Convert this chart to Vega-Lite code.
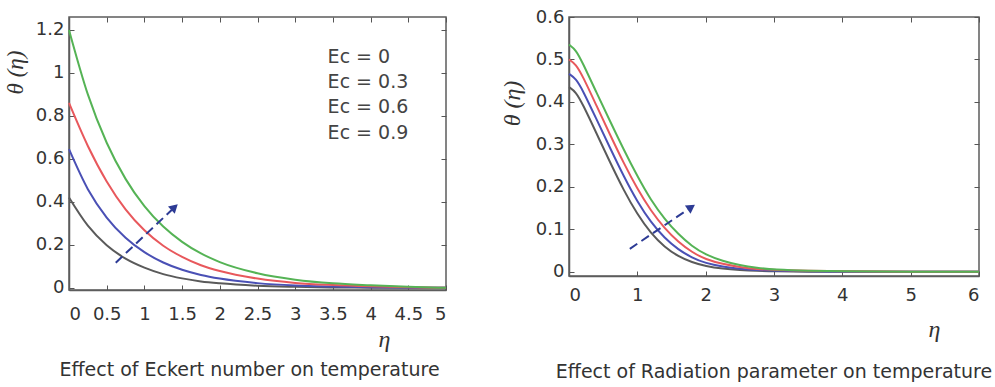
{
  "$schema": "https://vega.github.io/schema/vega-lite/v6.json",
  "padding": {"left": 3, "top": 7, "right": 5, "bottom": 2},
  "bounds": "flush",
  "spacing": 123,
  "datasets": {
    "ec": [
      {"eta": 0, "theta": 0.42, "s": "Ec = 0"}, {"eta": 0.25, "theta": 0.289, "s": "Ec = 0"}, {"eta": 0.5, "theta": 0.198, "s": "Ec = 0"}, {"eta": 0.75, "theta": 0.136, "s": "Ec = 0"}, {"eta": 1, "theta": 0.094, "s": "Ec = 0"}, {"eta": 1.25, "theta": 0.064, "s": "Ec = 0"}, {"eta": 1.5, "theta": 0.044, "s": "Ec = 0"}, {"eta": 1.75, "theta": 0.03, "s": "Ec = 0"}, {"eta": 2, "theta": 0.021, "s": "Ec = 0"}, {"eta": 2.5, "theta": 0.01, "s": "Ec = 0"}, {"eta": 3, "theta": 0.005, "s": "Ec = 0"}, {"eta": 3.5, "theta": 0.002, "s": "Ec = 0"}, {"eta": 4, "theta": 0.001, "s": "Ec = 0"}, {"eta": 4.5, "theta": 0.0005, "s": "Ec = 0"}, {"eta": 5, "theta": 0, "s": "Ec = 0"},
      {"eta": 0, "theta": 0.645, "s": "Ec = 0.3"}, {"eta": 0.25, "theta": 0.459, "s": "Ec = 0.3"}, {"eta": 0.5, "theta": 0.327, "s": "Ec = 0.3"}, {"eta": 0.75, "theta": 0.233, "s": "Ec = 0.3"}, {"eta": 1, "theta": 0.166, "s": "Ec = 0.3"}, {"eta": 1.25, "theta": 0.118, "s": "Ec = 0.3"}, {"eta": 1.5, "theta": 0.084, "s": "Ec = 0.3"}, {"eta": 1.75, "theta": 0.06, "s": "Ec = 0.3"}, {"eta": 2, "theta": 0.043, "s": "Ec = 0.3"}, {"eta": 2.5, "theta": 0.022, "s": "Ec = 0.3"}, {"eta": 3, "theta": 0.011, "s": "Ec = 0.3"}, {"eta": 3.5, "theta": 0.006, "s": "Ec = 0.3"}, {"eta": 4, "theta": 0.003, "s": "Ec = 0.3"}, {"eta": 4.5, "theta": 0.001, "s": "Ec = 0.3"}, {"eta": 5, "theta": 0, "s": "Ec = 0.3"},
      {"eta": 0, "theta": 0.86, "s": "Ec = 0.6"}, {"eta": 0.25, "theta": 0.66, "s": "Ec = 0.6"}, {"eta": 0.5, "theta": 0.495, "s": "Ec = 0.6"}, {"eta": 0.75, "theta": 0.365, "s": "Ec = 0.6"}, {"eta": 1, "theta": 0.268, "s": "Ec = 0.6"}, {"eta": 1.25, "theta": 0.196, "s": "Ec = 0.6"}, {"eta": 1.5, "theta": 0.144, "s": "Ec = 0.6"}, {"eta": 1.75, "theta": 0.105, "s": "Ec = 0.6"}, {"eta": 2, "theta": 0.078, "s": "Ec = 0.6"}, {"eta": 2.5, "theta": 0.043, "s": "Ec = 0.6"}, {"eta": 3, "theta": 0.023, "s": "Ec = 0.6"}, {"eta": 3.5, "theta": 0.013, "s": "Ec = 0.6"}, {"eta": 4, "theta": 0.007, "s": "Ec = 0.6"}, {"eta": 4.5, "theta": 0.003, "s": "Ec = 0.6"}, {"eta": 5, "theta": 0, "s": "Ec = 0.6"},
      {"eta": 0, "theta": 1.2, "s": "Ec = 0.9"}, {"eta": 0.25, "theta": 0.9, "s": "Ec = 0.9"}, {"eta": 0.5, "theta": 0.675, "s": "Ec = 0.9"}, {"eta": 0.75, "theta": 0.507, "s": "Ec = 0.9"}, {"eta": 1, "theta": 0.38, "s": "Ec = 0.9"}, {"eta": 1.25, "theta": 0.285, "s": "Ec = 0.9"}, {"eta": 1.5, "theta": 0.214, "s": "Ec = 0.9"}, {"eta": 1.75, "theta": 0.16, "s": "Ec = 0.9"}, {"eta": 2, "theta": 0.12, "s": "Ec = 0.9"}, {"eta": 2.5, "theta": 0.068, "s": "Ec = 0.9"}, {"eta": 3, "theta": 0.038, "s": "Ec = 0.9"}, {"eta": 3.5, "theta": 0.021, "s": "Ec = 0.9"}, {"eta": 4, "theta": 0.012, "s": "Ec = 0.9"}, {"eta": 4.5, "theta": 0.005, "s": "Ec = 0.9"}, {"eta": 5, "theta": 0, "s": "Ec = 0.9"}
    ],
    "rad": [
      {"eta": 0, "theta": 0.435, "s": "R1"}, {"eta": 0.1, "theta": 0.424, "s": "R1"}, {"eta": 0.2, "theta": 0.395, "s": "R1"}, {"eta": 0.4, "theta": 0.327, "s": "R1"}, {"eta": 0.6, "theta": 0.258, "s": "R1"}, {"eta": 0.8, "theta": 0.192, "s": "R1"}, {"eta": 1, "theta": 0.135, "s": "R1"}, {"eta": 1.2, "theta": 0.09, "s": "R1"}, {"eta": 1.4, "theta": 0.058, "s": "R1"}, {"eta": 1.6, "theta": 0.036, "s": "R1"}, {"eta": 1.8, "theta": 0.022, "s": "R1"}, {"eta": 2, "theta": 0.013, "s": "R1"}, {"eta": 2.25, "theta": 0.007, "s": "R1"}, {"eta": 2.5, "theta": 0.004, "s": "R1"}, {"eta": 2.75, "theta": 0.002, "s": "R1"}, {"eta": 3, "theta": 0.001, "s": "R1"}, {"eta": 3.5, "theta": 0, "s": "R1"}, {"eta": 4, "theta": 0, "s": "R1"}, {"eta": 5, "theta": 0, "s": "R1"}, {"eta": 6, "theta": 0, "s": "R1"},
      {"eta": 0, "theta": 0.466, "s": "R2"}, {"eta": 0.1, "theta": 0.455, "s": "R2"}, {"eta": 0.2, "theta": 0.428, "s": "R2"}, {"eta": 0.4, "theta": 0.36, "s": "R2"}, {"eta": 0.6, "theta": 0.292, "s": "R2"}, {"eta": 0.8, "theta": 0.225, "s": "R2"}, {"eta": 1, "theta": 0.165, "s": "R2"}, {"eta": 1.2, "theta": 0.116, "s": "R2"}, {"eta": 1.4, "theta": 0.079, "s": "R2"}, {"eta": 1.6, "theta": 0.052, "s": "R2"}, {"eta": 1.8, "theta": 0.033, "s": "R2"}, {"eta": 2, "theta": 0.02, "s": "R2"}, {"eta": 2.25, "theta": 0.012, "s": "R2"}, {"eta": 2.5, "theta": 0.007, "s": "R2"}, {"eta": 2.75, "theta": 0.004, "s": "R2"}, {"eta": 3, "theta": 0.002, "s": "R2"}, {"eta": 3.5, "theta": 0.001, "s": "R2"}, {"eta": 4, "theta": 0, "s": "R2"}, {"eta": 5, "theta": 0, "s": "R2"}, {"eta": 6, "theta": 0, "s": "R2"},
      {"eta": 0, "theta": 0.5, "s": "R3"}, {"eta": 0.1, "theta": 0.489, "s": "R3"}, {"eta": 0.2, "theta": 0.461, "s": "R3"}, {"eta": 0.4, "theta": 0.392, "s": "R3"}, {"eta": 0.6, "theta": 0.323, "s": "R3"}, {"eta": 0.8, "theta": 0.256, "s": "R3"}, {"eta": 1, "theta": 0.195, "s": "R3"}, {"eta": 1.2, "theta": 0.143, "s": "R3"}, {"eta": 1.4, "theta": 0.102, "s": "R3"}, {"eta": 1.6, "theta": 0.07, "s": "R3"}, {"eta": 1.8, "theta": 0.046, "s": "R3"}, {"eta": 2, "theta": 0.029, "s": "R3"}, {"eta": 2.25, "theta": 0.018, "s": "R3"}, {"eta": 2.5, "theta": 0.011, "s": "R3"}, {"eta": 2.75, "theta": 0.006, "s": "R3"}, {"eta": 3, "theta": 0.004, "s": "R3"}, {"eta": 3.5, "theta": 0.002, "s": "R3"}, {"eta": 4, "theta": 0.001, "s": "R3"}, {"eta": 5, "theta": 0, "s": "R3"}, {"eta": 6, "theta": 0, "s": "R3"},
      {"eta": 0, "theta": 0.535, "s": "R4"}, {"eta": 0.1, "theta": 0.523, "s": "R4"}, {"eta": 0.2, "theta": 0.492, "s": "R4"}, {"eta": 0.4, "theta": 0.423, "s": "R4"}, {"eta": 0.6, "theta": 0.355, "s": "R4"}, {"eta": 0.8, "theta": 0.288, "s": "R4"}, {"eta": 1, "theta": 0.225, "s": "R4"}, {"eta": 1.2, "theta": 0.168, "s": "R4"}, {"eta": 1.4, "theta": 0.124, "s": "R4"}, {"eta": 1.6, "theta": 0.088, "s": "R4"}, {"eta": 1.8, "theta": 0.06, "s": "R4"}, {"eta": 2, "theta": 0.04, "s": "R4"}, {"eta": 2.25, "theta": 0.025, "s": "R4"}, {"eta": 2.5, "theta": 0.015, "s": "R4"}, {"eta": 2.75, "theta": 0.009, "s": "R4"}, {"eta": 3, "theta": 0.005, "s": "R4"}, {"eta": 3.5, "theta": 0.002, "s": "R4"}, {"eta": 4, "theta": 0.001, "s": "R4"}, {"eta": 5, "theta": 0, "s": "R4"}, {"eta": 6, "theta": 0, "s": "R4"}
    ],
    "arrowEc": [{"x": 0.62, "y": 0.117, "x2": 1.4, "y2": 0.375}],
    "arrowRad": [{"x": 0.89, "y": 0.054, "x2": 1.79, "y2": 0.152}],
    "legendEc": [
      {"label": "Ec = 0", "x": 3.43, "y": 1.074},
      {"label": "Ec = 0.3", "x": 3.43, "y": 0.956},
      {"label": "Ec = 0.6", "x": 3.43, "y": 0.839},
      {"label": "Ec = 0.9", "x": 3.43, "y": 0.722}
    ]
  },
  "hconcat": [
    {
      "width": 377,
      "height": 273,
      "title": {"text": "Effect of Eckert number on temperature", "orient": "bottom", "offset": 10, "dx": -8},
      "resolve": {"axis": {"x": "independent", "y": "independent"}},
      "layer": [
        {
          "data": {"name": "ec"},
          "mark": {"type": "line", "strokeWidth": 2, "interpolate": "monotone"},
          "encoding": {
            "x": {"field": "eta", "type": "quantitative", "scale": {"domain": [0, 5], "nice": false, "zero": false},
              "axis": {"orient": "bottom", "values": [0, 0.5, 1, 1.5, 2, 2.5, 3, 3.5, 4, 4.5, 5], "format": "~g", "title": "η", "titleFontSize": 24, "titleX": 315, "titleY": 56, "titleBaseline": "alphabetic", "titleAlign": "center", "labelPadding": 20}},
            "y": {"field": "theta", "type": "quantitative", "scale": {"domain": [-0.01, 1.26], "nice": false, "zero": false},
              "axis": {"orient": "left", "values": [0, 0.2, 0.4, 0.6, 0.8, 1, 1.2], "format": "~g", "title": "θ (η)", "titleFontSize": 23, "titleX": -47, "titleY": 55, "titleAngle": 270, "titleAlign": "center", "titleBaseline": "alphabetic", "labelPadding": 10}},
            "color": {"field": "s", "type": "nominal", "scale": {"domain": ["Ec = 0", "Ec = 0.3", "Ec = 0.6", "Ec = 0.9"], "range": ["#5a5a5a", "#4a50b5", "#e8585c", "#55b355"]}, "legend": null}
          }
        },
        {
          "data": {"name": "arrowEc"},
          "mark": {"type": "rule", "color": "#2d3b95", "strokeWidth": 2, "strokeDash": [9, 5]},
          "encoding": {
            "x": {"field": "x", "type": "quantitative", "scale": {"domain": [0, 5], "nice": false, "zero": false}, "axis": null},
            "y": {"field": "y", "type": "quantitative", "scale": {"domain": [-0.01, 1.26], "nice": false, "zero": false}, "axis": null},
            "x2": {"field": "x2"},
            "y2": {"field": "y2"}
          }
        },
        {
          "data": {"name": "arrowEc"},
          "mark": {"type": "point", "shape": "triangle-up", "filled": true, "size": 100, "angle": 47, "color": "#2d3b95", "opacity": 1},
          "encoding": {
            "x": {"field": "x2", "type": "quantitative", "scale": {"domain": [0, 5], "nice": false, "zero": false}, "axis": null},
            "y": {"field": "y2", "type": "quantitative", "scale": {"domain": [-0.01, 1.26], "nice": false, "zero": false}, "axis": null}
          }
        },
        {
          "data": {"name": "legendEc"},
          "mark": {"type": "text", "align": "left", "baseline": "middle", "font": "DejaVu Sans", "fontSize": 19, "color": "#444"},
          "encoding": {
            "x": {"field": "x", "type": "quantitative", "scale": {"domain": [0, 5], "nice": false, "zero": false}, "axis": {"orient": "top", "labels": false, "title": null, "domain": false, "values": [0, 0.5, 1, 1.5, 2, 2.5, 3, 3.5, 4, 4.5, 5]}},
            "y": {"field": "y", "type": "quantitative", "scale": {"domain": [-0.01, 1.26], "nice": false, "zero": false}, "axis": {"orient": "right", "labels": false, "title": null, "domain": false, "values": [0, 0.2, 0.4, 0.6, 0.8, 1, 1.2]}},
            "text": {"field": "label"}
          }
        }
      ]
    },
    {
      "width": 410,
      "height": 259,
      "title": {"text": "Effect of Radiation parameter on temperature", "orient": "bottom", "offset": 22},
      "resolve": {"axis": {"x": "independent", "y": "independent"}},
      "layer": [
        {
          "data": {"name": "rad"},
          "mark": {"type": "line", "strokeWidth": 2, "interpolate": "basis"},
          "encoding": {
            "x": {"field": "eta", "type": "quantitative", "scale": {"domain": [0, 6], "nice": false, "zero": false},
              "axis": {"orient": "bottom", "values": [0, 1, 2, 3, 4, 5, 6], "format": "~g", "title": "η", "titleFontSize": 24, "titleX": 365, "titleY": 60, "titleBaseline": "alphabetic", "titleAlign": "center", "labelPadding": 15}},
            "y": {"field": "theta", "type": "quantitative", "scale": {"domain": [-0.01, 0.6], "nice": false, "zero": false},
              "axis": {"orient": "left", "values": [0, 0.1, 0.2, 0.3, 0.4, 0.5, 0.6], "format": "~g", "title": "θ (η)", "titleFontSize": 24, "titleX": -50, "titleY": 86, "titleAngle": 270, "titleAlign": "center", "titleBaseline": "alphabetic", "labelPadding": 10}},
            "color": {"field": "s", "type": "nominal", "scale": {"domain": ["R1", "R2", "R3", "R4"], "range": ["#5a5a5a", "#4a50b5", "#e8585c", "#55b355"]}, "legend": null}
          }
        },
        {
          "data": {"name": "arrowRad"},
          "mark": {"type": "rule", "color": "#2d3b95", "strokeWidth": 2, "strokeDash": [9, 5]},
          "encoding": {
            "x": {"field": "x", "type": "quantitative", "scale": {"domain": [0, 6], "nice": false, "zero": false}, "axis": null},
            "y": {"field": "y", "type": "quantitative", "scale": {"domain": [-0.01, 0.6], "nice": false, "zero": false}, "axis": null},
            "x2": {"field": "x2"},
            "y2": {"field": "y2"}
          }
        },
        {
          "data": {"name": "arrowRad"},
          "mark": {"type": "point", "shape": "triangle-up", "filled": true, "size": 100, "angle": 56, "color": "#2d3b95", "opacity": 1},
          "encoding": {
            "x": {"field": "x2", "type": "quantitative", "scale": {"domain": [0, 6], "nice": false, "zero": false}, "axis": {"orient": "top", "labels": false, "title": null, "domain": false, "values": [0, 1, 2, 3, 4, 5, 6]}},
            "y": {"field": "y2", "type": "quantitative", "scale": {"domain": [-0.01, 0.6], "nice": false, "zero": false}, "axis": {"orient": "right", "labels": false, "title": null, "domain": false, "values": [0, 0.1, 0.2, 0.3, 0.4, 0.5, 0.6]}}
          }
        }
      ]
    }
  ],
  "config": {
    "view": {"stroke": "#5c5c5c", "strokeWidth": 1.5},
    "axis": {"grid": false, "domainColor": "#5c5c5c", "domainWidth": 1.5, "tickColor": "#555", "tickSize": -5, "tickWidth": 1, "labelFont": "DejaVu Sans", "labelFontSize": 18, "labelColor": "#333", "titleFont": "Liberation Serif", "titleFontStyle": "italic", "titleFontWeight": "normal", "titleFontSize": 20, "titleColor": "#333"},
    "title": {"font": "DejaVu Sans", "fontSize": 19, "fontWeight": "normal", "color": "#333"}
  }
}
